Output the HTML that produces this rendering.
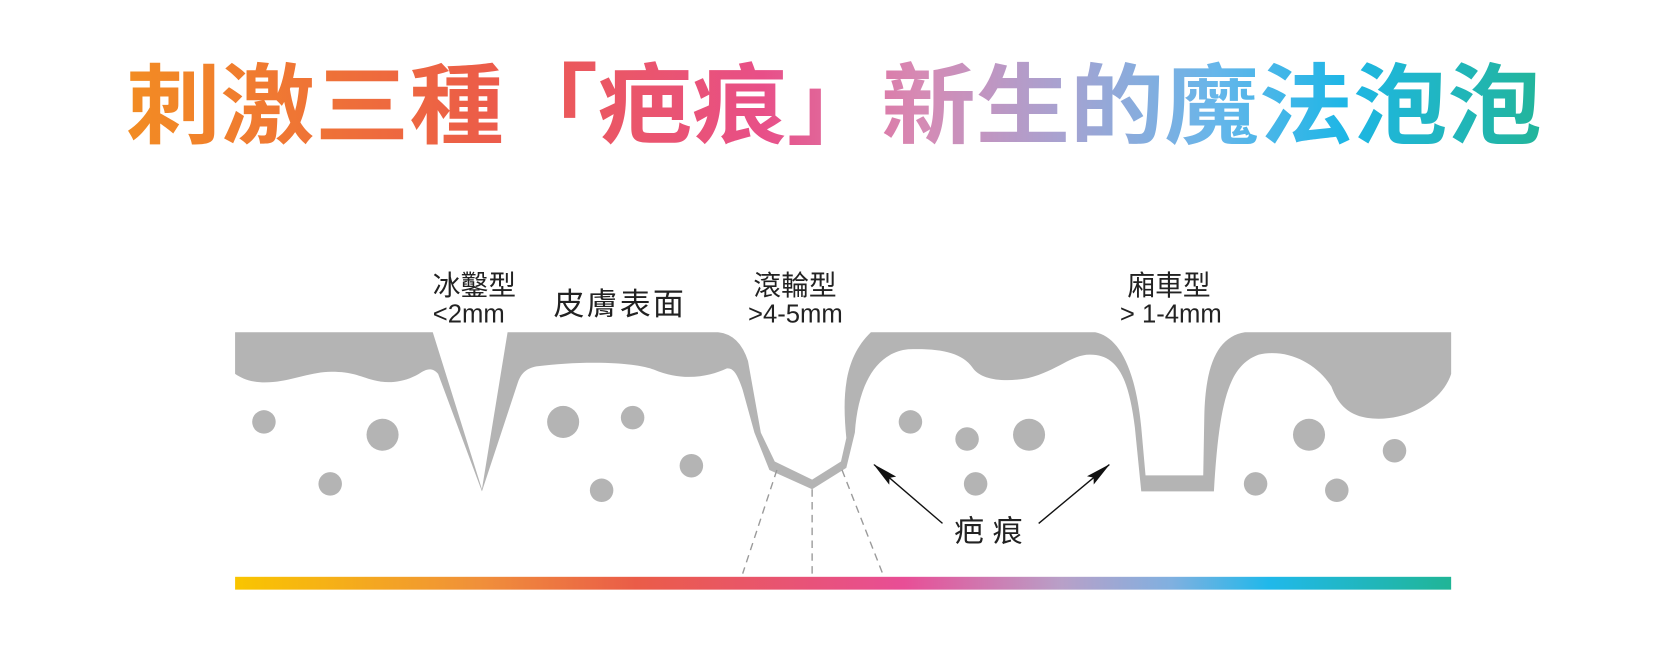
<!DOCTYPE html>
<html><head><meta charset="utf-8"><style>
html,body{margin:0;padding:0;background:#fff;}
svg{display:block;}
</style></head><body>
<svg width="1667" height="658" viewBox="0 0 1560 616" preserveAspectRatio="none" xmlns="http://www.w3.org/2000/svg">
<defs>
<linearGradient id="tg" gradientUnits="userSpaceOnUse" x1="118" y1="0" x2="1443" y2="0">
<stop offset="0" stop-color="#f28c22"/>
<stop offset="0.25" stop-color="#ec5d48"/>
<stop offset="0.45" stop-color="#e84f88"/>
<stop offset="0.56" stop-color="#d68ab4"/>
<stop offset="0.66" stop-color="#a8a2d0"/>
<stop offset="0.77" stop-color="#66b6ea"/>
<stop offset="0.86" stop-color="#1eb6e6"/>
<stop offset="1" stop-color="#22b59a"/>
</linearGradient>
<linearGradient id="bg" gradientUnits="userSpaceOnUse" x1="220" y1="0" x2="1358" y2="0">
<stop offset="0" stop-color="#f9c500"/>
<stop offset="0.2" stop-color="#f0903a"/>
<stop offset="0.33" stop-color="#ea5c48"/>
<stop offset="0.48" stop-color="#e8527c"/>
<stop offset="0.55" stop-color="#e84e96"/>
<stop offset="0.68" stop-color="#b8a0c8"/>
<stop offset="0.77" stop-color="#80b0e0"/>
<stop offset="0.85" stop-color="#20b8ea"/>
<stop offset="1" stop-color="#20b596"/>
</linearGradient>
<marker id="ah" viewBox="0 0 24 10" refX="23" refY="5" markerWidth="24" markerHeight="10" orient="auto" markerUnits="userSpaceOnUse">
<path d="M0,0 L24,5 L0,10 L4,5 Z" fill="#111"/>
</marker>
</defs>

<text x="118" y="128" textLength="1325" lengthAdjust="spacingAndGlyphs" font-family="'Liberation Sans','Noto Sans CJK TC',sans-serif" font-weight="bold" font-size="82" fill="url(#tg)">刺激三種「疤痕」新生的魔法泡泡</text>

<path fill="#b4b4b4" d="M220,311 L405,311 L451,458 L475,311 L672,311 Q692,313 700,338 L712,405 L725,432 L760,449 L787,432 L792,410 C788,370 790,335 815,311 L1025,311 C1045,315 1062,340 1068,400 L1072,445 L1126,445 L1127,390 C1128,340 1140,315 1165,311 L1358,311 L1358,350 C1350,375 1320,392 1290,392 C1262,392 1252,378 1246,362 C1232,340 1205,326 1178,332 C1150,342 1141,375 1136,460 L1068,460 L1062,400 C1056,352 1045,332 1020,332 C1002,332 990,347 962,354 C940,358 918,356 910,344 C900,330 880,326 850,327 C820,330 803,360 800,405 L792,438 L760,458 L720,440 L706,405 L695,365 C690,350 686,344 680,345 C665,352 640,358 612,346 C590,338 540,338 502,343 C492,345 487,350 484,360 L451,460 L410,350 C404,343 398,346 392,350 C380,357 365,360 350,356 C335,352 330,348 310,348 C290,348 270,358 248,358 C234,358 226,354 220,350 Z"/>

<g fill="#b4b4b4">
<circle cx="247" cy="395" r="11"/><circle cx="358" cy="407" r="15"/><circle cx="309" cy="453" r="11"/>
<circle cx="527" cy="395" r="15"/><circle cx="592" cy="391" r="11"/><circle cx="647" cy="436" r="11"/><circle cx="563" cy="459" r="11"/>
<circle cx="852" cy="395" r="11"/><circle cx="905" cy="411" r="11"/><circle cx="963" cy="407" r="15"/><circle cx="913" cy="453" r="11"/>
<circle cx="1225" cy="407" r="15"/><circle cx="1305" cy="422" r="11"/><circle cx="1175" cy="453" r="11"/><circle cx="1251" cy="459" r="11"/>
</g>

<g stroke="#9a9a9a" stroke-width="1.3" stroke-dasharray="7,5" fill="none">
<line x1="727" y1="440" x2="695" y2="537"/>
<line x1="760" y1="458" x2="760" y2="537"/>
<line x1="788" y1="440" x2="826" y2="537"/>
</g>

<g stroke="#111" stroke-width="1.3" fill="none">
<line x1="882" y1="490" x2="818" y2="435" marker-end="url(#ah)"/>
<line x1="972" y1="490" x2="1038" y2="435" marker-end="url(#ah)"/>
</g>

<g font-family="'Liberation Sans','Noto Sans CJK TC',sans-serif" fill="#222">
<text x="405" y="276" font-size="26">冰鑿型</text>
<text x="405" y="302" font-size="24">&lt;2mm</text>
<text x="518" y="295" font-size="29" letter-spacing="2">皮膚表面</text>
<text x="705" y="276" font-size="26">滾輪型</text>
<text x="700" y="302" font-size="24">&gt;4-5mm</text>
<text x="1055" y="276" font-size="26">廂車型</text>
<text x="1048" y="302" font-size="24">&gt; 1-4mm</text>
<text x="893" y="507" font-size="28" letter-spacing="8">疤痕</text>
</g>

<rect x="220" y="540" width="1138" height="12" fill="url(#bg)"/>
</svg>
</body></html>
